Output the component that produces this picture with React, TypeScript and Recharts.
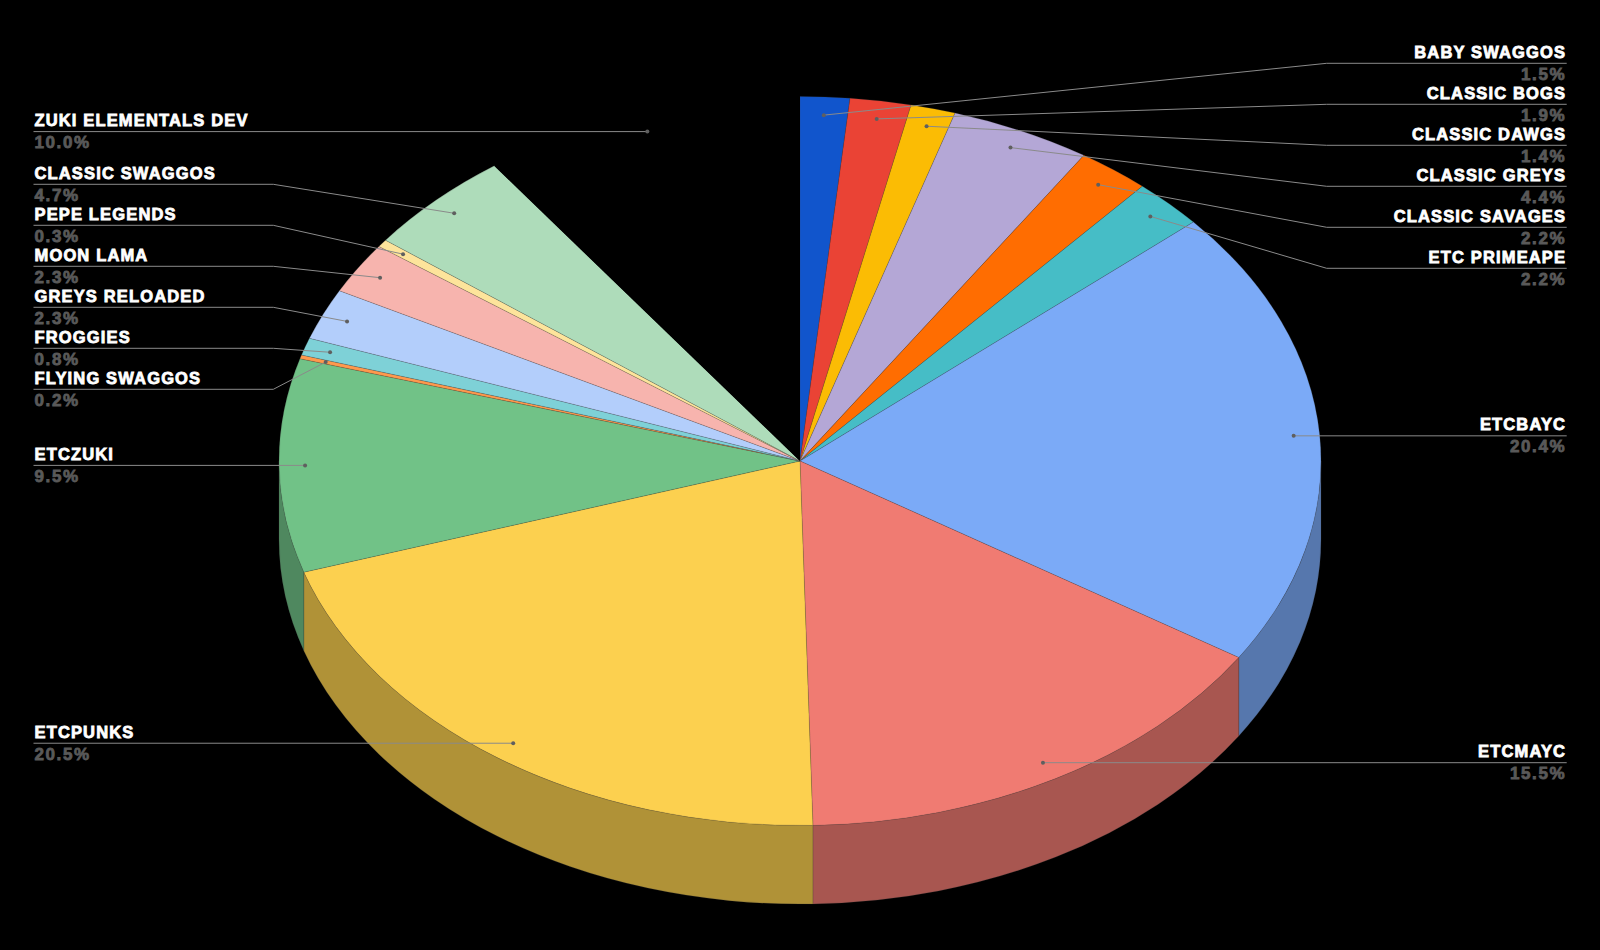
import React from 'react';
import { PieChart, Pie } from 'recharts';

const names = [
  'BABY SWAGGOS', 'CLASSIC BOGS', 'CLASSIC DAWGS', 'CLASSIC GREYS', 'CLASSIC SAVAGES', 'ETC PRIMEAPE',
  'ETCBAYC', 'ETCMAYC', 'ETCPUNKS', 'ETCZUKI', 'FLYING SWAGGOS', 'FROGGIES',
  'GREYS RELOADED', 'MOON LAMA', 'PEPE LEGENDS', 'CLASSIC SWAGGOS', 'ZUKI ELEMENTALS DEV',
];
const values = [
  1.53, 1.89, 1.39, 4.36, 2.24, 2.21,
  20.44, 15.54, 20.46, 9.46, 0.17, 0.77,
  2.27, 2.28, 0.34, 4.66, 9.98,
];
const colors = [
  '#1155cc', '#ea4335', '#fbbc04', '#b4a7d6', '#ff6d01', '#46bdc6',
  '#7baaf7', '#f07b72', '#fcd04f', '#71c287', '#ff994d', '#7ed1d7',
  '#b3cefb', '#f7b4ae', '#fde49b', '#aedcba', '#000000',
];
// y of the horizontal part of each leader, null when it runs level from the dot
const leaderY = [
  63.3, 104.3, 145.3, 186.3, 227.3, 268.3,
  null, null, null, null, 389.3, 348.3,
  307.3, 266.3, 225.3, 184.3, null,
];

const CX = 800;
const CY = 461;
const RX = 521;
const RY = 364.5;
const DEPTH = 78.5;
const FONT = '"Liberation Sans", Arial, sans-serif';

const data = names.map((name, i) => ({ name, value: values[i], fill: colors[i] }));

const pt = (deg: number, k = 1, dy = 0) => {
  const a = (deg * Math.PI) / 180;
  return `${CX + RX * k * Math.cos(a)} ${CY + dy - RY * k * Math.sin(a)}`;
};

const shade = (hex: string) => {
  const n = parseInt(hex.slice(1), 16);
  const c = [n >> 16, (n >> 8) & 255, n & 255].map(v => Math.round(v * 0.7));
  return `rgb(${c.join(',')})`;
};

// flattened slice plus the visible part of its side wall
const Slice = (props: any) => {
  const { startAngle: s, endAngle: e, fill } = props;
  const large = s - e > 180 ? 1 : 0;
  const hi = Math.min(s, 0);
  const lo = Math.max(e, -180);
  const line = fill === '#000000' ? 'none' : 'rgba(70,70,70,0.4)';
  return (
    <g>
      {hi > lo && (
        <path
          d={`M${pt(hi)} A${RX} ${RY} 0 0 1 ${pt(lo)} L${pt(lo, 1, DEPTH)} A${RX} ${RY} 0 0 0 ${pt(hi, 1, DEPTH)} Z`}
          fill={shade(fill)}
          stroke={line}
          strokeWidth={0.5}
        />
      )}
      <path
        d={`M${CX} ${CY} L${pt(s)} A${RX} ${RY} 0 ${large} 1 ${pt(e)} Z`}
        fill={fill}
        stroke={line}
        strokeWidth={0.5}
      />
    </g>
  );
};

const Label = (props: any) => {
  const i = names.indexOf(props.name);
  const mid = (props.startAngle + props.endAngle) / 2;
  const a = (mid * Math.PI) / 180;
  const dotX = CX + 0.95 * RX * Math.cos(a);
  const dotY = CY - 0.95 * RY * Math.sin(a);
  const right = Math.cos(a) > 0;
  const bent = leaderY[i];
  const y = bent == null ? dotY : bent;
  const endX = right ? 1566.7 : 33.5;
  const elbowX = right ? 1326.7 : 273.3;
  const textX = right ? 1566.2 : 34.5;
  const anchor = right ? 'end' : 'start';
  const points = bent == null
    ? `${dotX},${dotY} ${endX},${y}`
    : `${dotX},${dotY} ${elbowX},${y} ${endX},${y}`;
  return (
    <g>
      <polyline points={points} fill="none" stroke="#8a8a8a" strokeWidth={1} />
      <circle cx={dotX} cy={dotY} r={2} fill="#5f5f5f" />
      <text x={textX} y={y - 5.6} textAnchor={anchor} fontFamily={FONT} fontWeight={700} fontSize={16.5} letterSpacing={1.15} fill="#ffffff" stroke="#ffffff" strokeWidth={0.8}>
        {props.name}
      </text>
      <text x={textX} y={y + 16.6} textAnchor={anchor} fontFamily={FONT} fontWeight={700} fontSize={17} letterSpacing={1.6} fill="#595959" stroke="#595959" strokeWidth={0.8}>
        {`${props.value.toFixed(1)}%`}
      </text>
    </g>
  );
};

const App = () => (
  <div style={{ position: 'fixed', left: 0, top: 0, width: 1600, height: 950, background: '#000000' }}>
    <PieChart width={1600} height={950} margin={{ top: 0, right: 0, bottom: 0, left: 0 }}>
      <Pie
        data={data}
        dataKey="value"
        nameKey="name"
        cx={CX}
        cy={CY}
        innerRadius={0}
        outerRadius={RX}
        startAngle={90}
        endAngle={-270}
        shape={Slice}
        label={Label}
        labelLine={false}
        isAnimationActive={false}
      />
    </PieChart>
  </div>
);

export default App;
